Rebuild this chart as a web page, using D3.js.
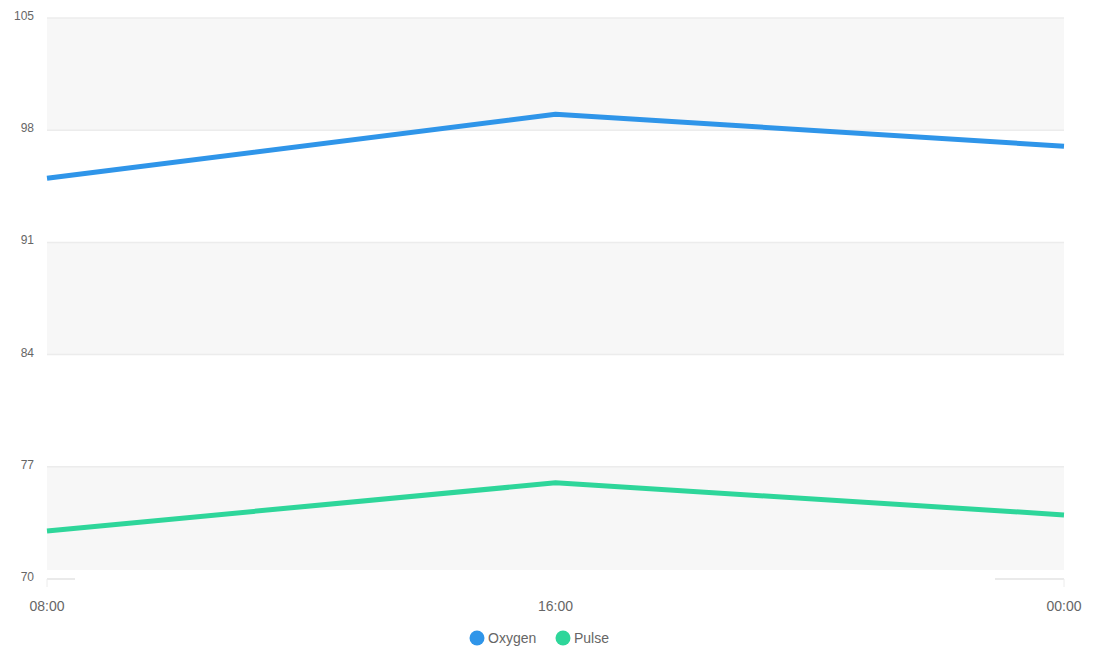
<!DOCTYPE html>
<html><head><meta charset="utf-8">
<script src="https://cdn.jsdelivr.net/npm/d3@7"></script>
<style>body{margin:0;background:#fff;font-family:"Liberation Sans",Arial,sans-serif}</style>
</head><body><svg id="c" width="1094" height="655"></svg>
<script>
const categories = ["08:00","16:00","00:00"];
const oxygen = [95, 99, 97];
const pulse = [73, 76, 74];
const yTicks = [70, 77, 84, 91, 98, 105];
const seriesNames = ["Oxygen","Pulse"];
const colors = ["#2f95e9","#2ed69a"];

const svg = d3.select("#c");
const x = d3.scalePoint().domain(categories).range([47, 1064]);
const y = d3.scaleLinear().domain([70,105]).range([579, 18]);

// bands
const bands = [[98,105],[84,91],[70,77]];
svg.selectAll("rect.band").data(bands).enter().append("rect")
  .attr("x", x.range()[0]).attr("width", x.range()[1]-x.range()[0])
  .attr("y", d=>y(d[1]))
  .attr("height", d=> d[0]===70 ? y(d[0])-y(d[1])-9 : y(d[0])-y(d[1]))
  .attr("fill","#f7f7f7");

// gridlines
svg.selectAll("line.grid").data(yTicks.filter(t=>t!==70)).enter().append("line")
  .attr("x1",x.range()[0]).attr("x2",x.range()[1])
  .attr("y1",d=>y(d)).attr("y2",d=>y(d))
  .attr("stroke","#ececec").attr("stroke-width",1.5);
[[x.range()[0], x.range()[0]+28],[x.range()[1]-69, x.range()[1]]].forEach(s=>{
  svg.append("line").attr("x1",s[0]).attr("x2",s[1]).attr("y1",y(70)).attr("y2",y(70))
    .attr("stroke","#e3e3e3").attr("stroke-width",1.5);
});
[x.range()[0], x.range()[1]].forEach(px=>{
  svg.append("line").attr("x1",px).attr("x2",px).attr("y1",y(70)).attr("y2",y(70)+8)
    .attr("stroke","#ececec").attr("stroke-width",1);
});

// y labels
svg.selectAll("text.yl").data(yTicks).enter().append("text")
  .attr("x",34).attr("y",d=>y(d)+2).attr("text-anchor","end")
  .attr("font-size",12).attr("fill","#666").text(d=>d);

// x labels
svg.selectAll("text.xl").data(categories).enter().append("text")
  .attr("x",d=>x(d)).attr("y",611).attr("text-anchor","middle")
  .attr("font-size",14).attr("fill","#666").text(d=>d);

// lines
const line = d3.line().x((d,i)=>x(categories[i])).y(d=>y(d));
[oxygen, pulse].forEach((s,i)=>{
  svg.append("path").datum(s).attr("d",line).attr("fill","none")
    .attr("stroke",colors[i]).attr("stroke-width",5).attr("stroke-linejoin","round");
});

// legend
const lg = [{n:seriesNames[0],c:colors[0],x:477},{n:seriesNames[1],c:colors[1],x:563}];
lg.forEach(l=>{
  svg.append("circle").attr("cx",l.x).attr("cy",638).attr("r",7.5).attr("fill",l.c);
  svg.append("text").attr("x",l.x+11).attr("y",643).attr("font-size",14).attr("fill","#666").text(l.n);
});
</script></body></html>
